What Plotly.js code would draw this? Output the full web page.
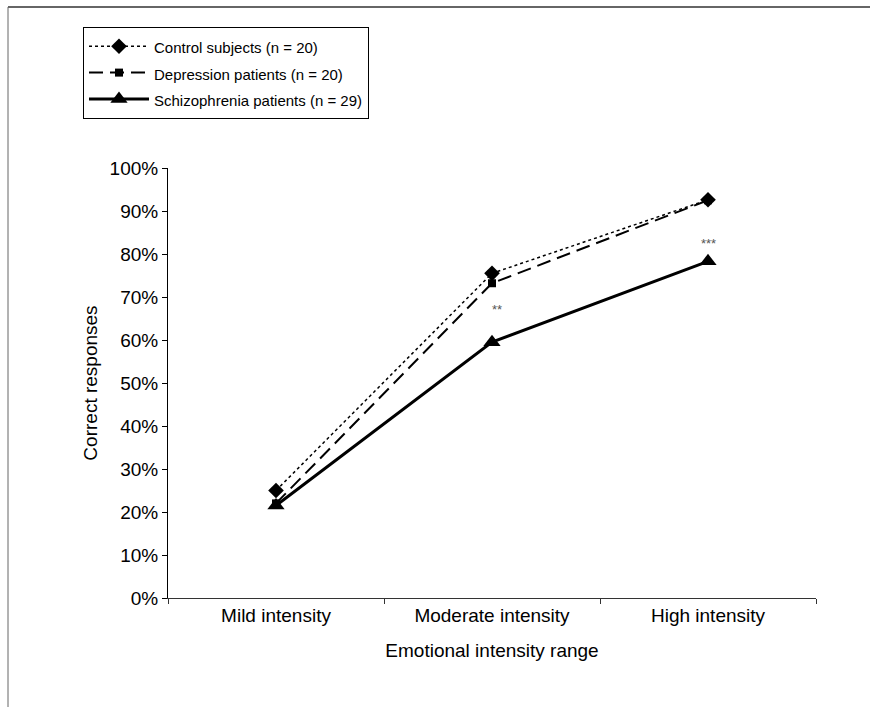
<!DOCTYPE html>
<html>
<head>
<meta charset="utf-8">
<script src="https://cdn.plot.ly/plotly-3.0.1.min.js"></script>
<style>html,body{margin:0;padding:0;background:#fff;}#chart{width:870px;height:707px;}</style>
</head>
<body>
<div id="chart"></div>
<script>
var categories = ["Mild intensity", "Moderate intensity", "High intensity"];
var controlValues = [25, 75.5, 92.6];
var depressionValues = [22, 73.2, 92.5];
var schizophreniaValues = [21.5, 59.5, 78.3];
var seriesNames = ["Control subjects (n = 20)", "Depression patients (n = 20)", "Schizophrenia patients (n = 29)"];
var significanceLabels = ["", "**", "***"];
var significanceY = [null, 67, 82.5];

var font = "Liberation Sans, Arial, sans-serif";

function legendName(s){ return '<span style="font-size:15px">' + s + '</span>'; }

var traces = [
  {x: categories, y: controlValues, name: legendName(seriesNames[0]), type: "scatter", mode: "lines+markers",
   line: {color: "#000", width: 1.5, dash: "dot"}, marker: {symbol: "diamond", size: 12, color: "#000"}, cliponaxis: false},
  {x: categories, y: depressionValues, name: legendName(seriesNames[1]), type: "scatter", mode: "lines+markers",
   line: {color: "#000", width: 2, dash: "14px,7px"}, marker: {symbol: "square", size: 8, color: "#000"}, cliponaxis: false},
  {x: categories, y: schizophreniaValues, name: legendName(seriesNames[2]), type: "scatter", mode: "lines+markers",
   line: {color: "#000", width: 3}, marker: {symbol: "triangle-up", size: 15, color: "#000"}, cliponaxis: false}
];

var annotations = [];
for (var i = 0; i < categories.length; i++) {
  if (significanceLabels[i]) {
    annotations.push({x: categories[i], y: significanceY[i], xref: "x", yref: "y", text: significanceLabels[i],
      showarrow: false, font: {family: font, size: 13, color: "#555"}, xshift: i === 1 ? 5 : 0});
  }
}

var L = 168, R = 54, T = 168, B = 109, W = 870, H = 707;
var pw = W - L - R, ph = H - T - B;
function px(x){ return (x - L) / pw; }
function py(y){ return (H - B - y) / ph; }

var layout = {
  width: W, height: H,
  margin: {l: L, r: R, t: T, b: B, pad: 0, autoexpand: false},
  paper_bgcolor: "#fff", plot_bgcolor: "#fff",
  font: {family: font, size: 19, color: "#000"},
  showlegend: true,
  legend: {xref: "paper", yref: "paper", x: px(83), y: py(27), xanchor: "left", yanchor: "top",
    bordercolor: "#000", borderwidth: 1, bgcolor: "#fff", font: {family: font, size: 18, color: "#000"},
    itemwidth: 60, tracegroupgap: 0},
  xaxis: {type: "category", range: [-0.5, 2.5], tickson: "boundaries", ticks: "outside", ticklen: 5,
    tickcolor: "#333", showline: true, linecolor: "#333", linewidth: 1, showgrid: false, zeroline: false,
    tickfont: {family: font, size: 19}, title: {text: "Emotional intensity range", font: {family: font, size: 19}, standoff: 18}},
  yaxis: {range: [0, 100], dtick: 10, ticksuffix: "%", ticks: "outside", ticklen: 5, tickcolor: "#000",
    showline: true, linecolor: "#000", linewidth: 1, showgrid: false, zeroline: false,
    tickfont: {family: font, size: 19}, title: {text: "Correct responses", font: {family: font, size: 19}, standoff: 6}},
  annotations: annotations,
  shapes: [
    {type: "line", xref: "paper", yref: "paper", x0: px(8), x1: px(875), y0: py(7), y1: py(7), line: {color: "#666", width: 2}},
    {type: "line", xref: "paper", yref: "paper", x0: px(8), x1: px(8), y0: py(7), y1: py(712), line: {color: "#666", width: 1}}
  ]
};

Plotly.newPlot("chart", traces, layout, {displayModeBar: false, staticPlot: true});
</script>
</body>
</html>
